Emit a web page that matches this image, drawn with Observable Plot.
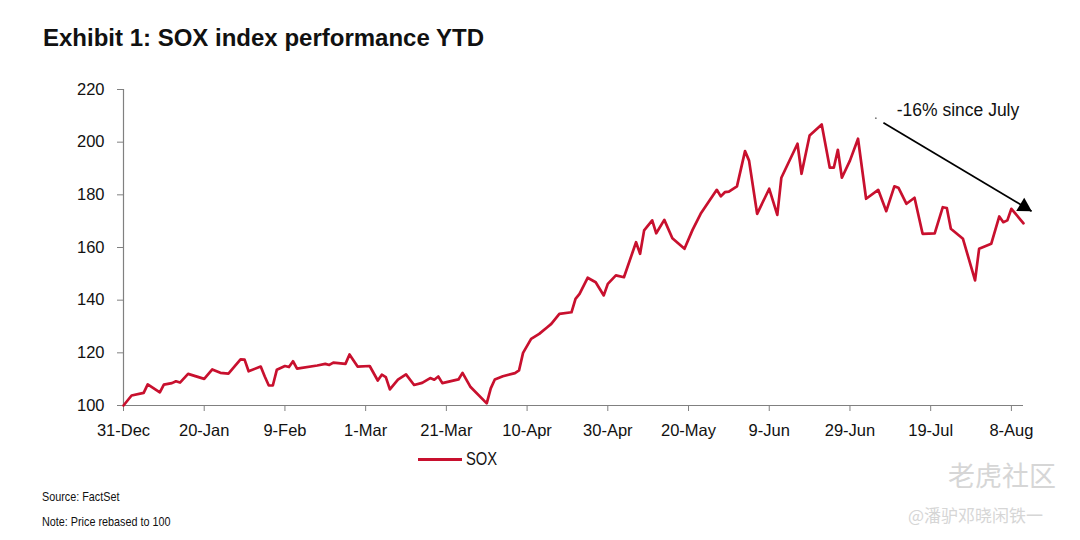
<!DOCTYPE html>
<html>
<head>
<meta charset="utf-8">
<script src="https://cdn.jsdelivr.net/npm/d3@7"></script>
<script src="https://cdn.jsdelivr.net/npm/@observablehq/plot@0.6"></script>
<style>
  body { margin: 0; background: #fff; }
  #wrap { position: relative; width: 1080px; height: 540px; font-family: Arial, "Liberation Sans", sans-serif; color: #111; overflow: hidden; }
  #title { position: absolute; left: 43px; top: 25px; font-size: 24px; line-height: 25px; font-weight: bold; white-space: nowrap; }
  #chart { position: absolute; left: 0; top: 60px; }
  #legend { position: absolute; left: 418px; top: 449px; height: 20px; display: flex; align-items: center; font-size: 18px; }
  #legend .sw { display: inline-block; width: 44px; height: 3px; background: #c8102e; margin-right: 4px; }
  #legend .lt { display: inline-block; transform: scaleX(0.82); transform-origin: left center; }
  .foot { position: absolute; left: 42px; font-size: 13.5px; line-height: 14px; white-space: nowrap; transform: scaleX(0.8); transform-origin: left top; }
  .wm { position: absolute; color: #d6d6d6; font-family: "Noto Sans CJK SC", sans-serif; white-space: nowrap; }
</style>
</head>
<body>
<div id="wrap">
  <div id="title">Exhibit 1: SOX index performance YTD</div>
  <div id="chart"></div>
  <div id="legend"><span class="sw"></span><span class="lt">SOX</span></div>
  <div class="foot" style="top:490px">Source: FactSet</div>
  <div class="foot" style="top:515px">Note: Price rebased to 100</div>
  <div class="wm" style="left:948px; top:460px; font-size:27px; line-height:30px;">老虎社区</div>
  <div class="wm" style="left:908px; top:505px; font-size:17px; line-height:20px;">@潘驴邓晓闲铁一</div>
</div>
<script>
// ---- data (SOX, rebased to 100) ----
const dates = [
  "2022-12-31","2023-01-02","2023-01-05","2023-01-06","2023-01-09","2023-01-10","2023-01-12","2023-01-13","2023-01-14","2023-01-16",
  "2023-01-20","2023-01-22","2023-01-24","2023-01-26","2023-01-29","2023-01-30","2023-01-31","2023-02-03","2023-02-04","2023-02-05",
  "2023-02-06","2023-02-07","2023-02-09","2023-02-10","2023-02-11","2023-02-12","2023-02-17","2023-02-19","2023-02-20","2023-02-21",
  "2023-02-24","2023-02-25","2023-02-27","2023-03-02","2023-03-04","2023-03-05","2023-03-06","2023-03-07","2023-03-09","2023-03-11",
  "2023-03-13","2023-03-15","2023-03-17","2023-03-18","2023-03-19","2023-03-20","2023-03-24","2023-03-25","2023-03-27","2023-03-31",
  "2023-04-01","2023-04-02","2023-04-04","2023-04-07","2023-04-08","2023-04-09","2023-04-11","2023-04-13","2023-04-15","2023-04-16",
  "2023-04-18","2023-04-21","2023-04-22","2023-04-23","2023-04-25","2023-04-27","2023-04-29","2023-04-30","2023-05-02","2023-05-04",
  "2023-05-07","2023-05-08","2023-05-09","2023-05-11","2023-05-12","2023-05-14","2023-05-16","2023-05-19","2023-05-21","2023-05-23",
  "2023-05-27","2023-05-28","2023-05-29","2023-05-30","2023-06-01","2023-06-03","2023-06-04","2023-06-06","2023-06-09","2023-06-11",
  "2023-06-12","2023-06-16","2023-06-17","2023-06-19","2023-06-22","2023-06-24","2023-06-25","2023-06-26","2023-06-27","2023-06-29",
  "2023-07-01","2023-07-03","2023-07-06","2023-07-08","2023-07-10","2023-07-11","2023-07-13","2023-07-15","2023-07-17","2023-07-20",
  "2023-07-22","2023-07-23","2023-07-24","2023-07-27","2023-07-30","2023-07-31","2023-08-03","2023-08-05","2023-08-06","2023-08-07",
  "2023-08-08","2023-08-11"
];
const sox = [
  100.0,103.8,104.8,108.0,105.0,107.9,108.5,109.2,108.7,112.0,
  110.1,113.7,112.4,112.1,117.5,117.4,113.0,114.8,111.0,107.6,
  107.6,113.6,115.0,114.6,116.8,114.0,115.2,115.8,115.4,116.3,
  115.8,119.4,114.8,115.0,109.5,111.7,110.8,106.1,109.8,111.8,
  107.8,108.6,110.4,109.8,111.0,108.5,109.9,112.4,107.0,100.8,
  106.5,109.9,111.1,112.3,113.3,120.0,125.3,127.2,129.7,131.0,
  134.8,135.4,140.5,142.4,148.5,146.8,141.8,146.2,149.4,148.7,
  162.0,157.6,166.5,170.3,165.4,170.5,163.5,159.5,166.7,172.8,
  181.9,179.4,181.0,181.2,183.2,196.6,193.0,172.8,182.3,172.4,
  186.5,199.4,188.0,202.5,206.7,190.3,190.3,197.1,186.5,193.0,
  201.3,178.5,181.9,173.8,183.2,182.7,176.6,178.9,165.2,165.4,
  175.3,175.0,167.1,163.3,147.5,159.5,161.4,171.8,169.6,170.3,
  174.7,169.2
];
const yTicks = [100, 120, 140, 160, 180, 200, 220];
const xTickDates = ["2022-12-31","2023-01-20","2023-02-09","2023-03-01","2023-03-21","2023-04-10",
                    "2023-04-30","2023-05-20","2023-06-09","2023-06-29","2023-07-19","2023-08-08"];
const xTickLabels = ["31-Dec","20-Jan","9-Feb","1-Mar","21-Mar","10-Apr",
                     "30-Apr","20-May","9-Jun","29-Jun","19-Jul","8-Aug"];
const xDomain = ["2022-12-31", "2023-08-11"];
const yDomain = [100, 220];
const annotationText = ["-16% since July"];
const annotationPos = ["2023-07-10T14:00Z", 212];
const arrowFrom = ["2023-07-07T07:00Z", 207.4];
const arrowTo = ["2023-08-13T00:00Z", 173.8];
const arrowDot = ["2023-07-05T10:00Z", 209.1];

// ---- build ----
const parse = (s) => new Date(s.length === 10 ? s + "T00:00Z" : s);
const data = dates.map((d, i) => ({date: parse(d), value: sox[i]}));
const tickDates = xTickDates.map(parse);
const arrow = [{x1: parse(arrowFrom[0]), y1: arrowFrom[1], x2: parse(arrowTo[0]), y2: arrowTo[1]}];
const ann = [{x: parse(annotationPos[0]), y: annotationPos[1], text: annotationText[0]}];
const dot = [{x: parse(arrowDot[0]), y: arrowDot[1]}];
const RED = "#c8102e";

const chart = Plot.plot({
  width: 1080,
  height: 390,
  marginTop: 29,
  marginBottom: 45,
  marginLeft: 123,
  marginRight: 57,
  style: {fontFamily: "Arial, 'Liberation Sans', sans-serif", fontSize: "16.5px", background: "#fff", overflow: "visible"},
  x: {type: "utc", domain: xDomain.map(parse)},
  y: {domain: yDomain},
  marks: [
    Plot.ruleY([yDomain[0]], {stroke: "#808080", strokeWidth: 1.2}),
    Plot.ruleX([parse(xDomain[0])], {stroke: "#808080", strokeWidth: 1.2}),
    Plot.axisX({ticks: tickDates, tickFormat: (d, i) => xTickLabels[i], tickSize: 6, tickPadding: 13, stroke: "#808080", fill: "#111", label: null}),
    Plot.axisY({ticks: yTicks, tickSize: 6, tickPadding: 13, stroke: "#808080", fill: "#111", label: null}),
    Plot.line(data, {x: "date", y: "value", stroke: RED, strokeWidth: 2.7, strokeLinejoin: "round", strokeLinecap: "round"}),
    Plot.link(arrow, {x1: "x1", y1: "y1", x2: "x2", y2: "y2", stroke: "#000", strokeWidth: 1.7}),
    Plot.dot(arrow, {x: "x2", y: "y2", symbol: "triangle", r: 5.8, fill: "#000", stroke: "none", rotate: 121, dx: -7.5, dy: -4.5}),
    Plot.dot(dot, {x: "x", y: "y", r: 0.9, fill: "#777", stroke: "none"}),
    Plot.text(ann, {x: "x", y: "y", text: "text", textAnchor: "start", fontSize: 17.5, fill: "#111"})
  ]
});
document.getElementById("chart").appendChild(chart);
</script>
</body>
</html>
